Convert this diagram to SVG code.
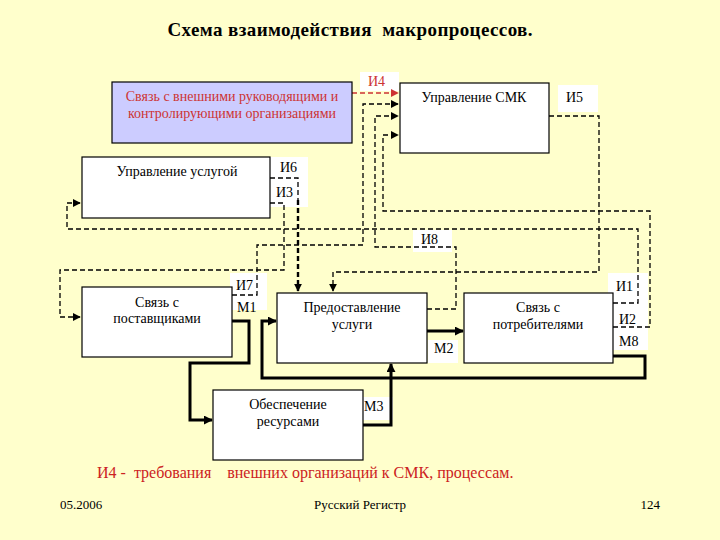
<svg xmlns="http://www.w3.org/2000/svg" width="720" height="540" viewBox="0 0 720 540" font-family="'Liberation Serif', 'DejaVu Serif', 'Times New Roman', serif">
<defs>
<style>
text{font-family:'Liberation Serif','DejaVu Serif','Times New Roman',serif}
.box{fill:#fff;stroke:#000;stroke-width:1.2}
.t{font-size:14px;fill:#000}
.tc{text-anchor:middle}
.lbl{fill:#fff;stroke:none}
.d{fill:none;stroke:#000;stroke-width:1.3;stroke-dasharray:5 3}
.dt{fill:none;stroke:#000;stroke-width:2.4;stroke-dasharray:5 3}
.s{fill:none;stroke:#000;stroke-width:3}
</style>
<marker id="a" viewBox="0 0 10 10" refX="9" refY="5" markerWidth="8" markerHeight="8" markerUnits="userSpaceOnUse" orient="auto"><path d="M0,0 L10,5 L0,10 z" fill="#000"/></marker>
<marker id="ar" viewBox="0 0 10 10" refX="9" refY="5" markerWidth="8" markerHeight="8" markerUnits="userSpaceOnUse" orient="auto"><path d="M0,0 L10,5 L0,10 z" fill="#CC3333"/></marker>
<marker id="as" viewBox="0 0 10 10" refX="9" refY="5" markerWidth="9" markerHeight="9" markerUnits="userSpaceOnUse" orient="auto"><path d="M0,0 L10,5 L0,10 z" fill="#000"/></marker>
</defs>
<rect x="0" y="0" width="720" height="540" fill="#FFFFCC"/>
<text x="350" y="36" class="t tc" style="font-size:19px;font-weight:bold" textLength="365" xml:space="preserve">Схема взаимодействия  макропроцессов.</text>

<g id="labels" class="t">
<rect class="lbl" x="360" y="72" width="39" height="19"/>
<text x="368" y="86" style="fill:#CC3333">И4</text>
<rect class="lbl" x="558" y="85" width="40" height="27"/>
<text x="566" y="102">И5</text>
<rect class="lbl" x="270" y="157" width="38" height="50"/>
<text x="280" y="172">И6</text>
<text x="276" y="197">И3</text>
<rect class="lbl" x="413" y="230" width="39" height="22"/>
<text x="421" y="244">И8</text>
<rect class="lbl" x="230" y="273" width="37" height="37"/>
<text x="236" y="290">И7</text>
<text x="237" y="312">М1</text>
<rect class="lbl" x="608" y="273" width="40" height="77"/>
<text x="616" y="291">И1</text>
<text x="619" y="324">И2</text>
<text x="619" y="346">М8</text>
<rect class="lbl" x="428" y="340" width="30" height="23"/>
<text x="434" y="353">М2</text>
<rect class="lbl" x="363" y="397" width="30" height="23"/>
<text x="364" y="411">М3</text>
</g>

<g id="connectors">
<path d="M352,93 H398" fill="none" stroke="#CC3333" stroke-width="1.3" stroke-dasharray="5 3" marker-end="url(#ar)"/>
<path class="d" d="M232,295 H257 V245 H363 V104 H398" marker-end="url(#a)"/>
<path class="d" d="M427,309 H456 V247 H375 V116 H398" marker-end="url(#a)"/>
<path class="d" d="M613,327 H650 V211 H383 V135 H398" marker-end="url(#a)"/>
<path class="d" d="M549,116 H599 V272 H333 V291" marker-end="url(#a)"/>
<path class="d" d="M270,178 H298 V200"/>
<path class="dt" d="M298,200 V291" marker-end="url(#a)"/>
<path class="d" d="M270,203 H284 V270 H60 V317 H80" marker-end="url(#a)"/>
<path class="d" d="M613,303 H638 V229 H67 V203 H80" marker-end="url(#a)"/>
<path class="s" d="M232,321 H249 V363 H190 V420 H212" marker-end="url(#as)"/>
<path class="s" d="M427,331 H463" marker-end="url(#as)"/>
<path class="s" d="M363,425 H391 V364" marker-end="url(#as)"/>
<path class="s" d="M613,356 H645 V378 H262 V321 H276" marker-end="url(#as)"/>
</g>

<g id="n-external">
<rect x="112" y="82" width="240" height="61" fill="#CCCCFF" stroke="#000" stroke-width="1.2"/>
<text x="232" y="101" class="t tc" style="fill:#CC3333">Связь с внешними руководящими и</text>
<text x="232" y="118" class="t tc" style="fill:#CC3333">контролирующими организациями</text>
</g>
<g id="n-smk">
<rect class="box" x="400" y="83" width="149" height="70"/>
<text x="474" y="102" class="t tc">Управление СМК</text>
</g>
<g id="n-uslugoy">
<rect class="box" x="82" y="157" width="188" height="61"/>
<text x="177" y="176" class="t tc">Управление услугой</text>
</g>
<g id="n-postavshiki">
<rect class="box" x="82" y="287" width="150" height="70"/>
<text x="157" y="307" class="t tc">Связь с</text>
<text x="157" y="323" class="t tc">поставщиками</text>
</g>
<g id="n-predostavlenie">
<rect class="box" x="277" y="293" width="150" height="70"/>
<text x="352" y="312" class="t tc">Предоставление</text>
<text x="352" y="329" class="t tc">услуги</text>
</g>
<g id="n-potrebiteli">
<rect class="box" x="464" y="293" width="149" height="70"/>
<text x="538" y="312" class="t tc">Связь с</text>
<text x="538" y="329" class="t tc">потребителями</text>
</g>
<g id="n-resursy">
<rect class="box" x="213" y="390" width="150" height="70"/>
<text x="288" y="409" class="t tc">Обеспечение</text>
<text x="288" y="426" class="t tc">ресурсами</text>
</g>

<text x="97" y="478" class="t" style="font-size:16px;fill:#CC2222" xml:space="preserve">И4 -  требования    внешних организаций к СМК, процессам.</text>
<text x="60" y="509" class="t" style="font-size:13px">05.2006</text>
<text x="360" y="509" class="t tc" style="font-size:13px">Русский Регистр</text>
<text x="660" y="509" class="t" style="text-anchor:end;font-size:13px">124</text>
</svg>
